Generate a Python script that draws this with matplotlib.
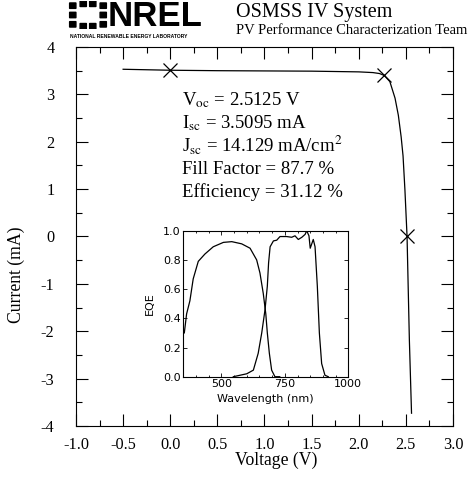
import matplotlib.pyplot as plt
import numpy as np
from matplotlib.patches import FancyBboxPatch
from matplotlib.ticker import MultipleLocator

plt.rcParams["font.family"] = ["Liberation Serif", "DejaVu Serif"]
plt.rcParams["mathtext.fontset"] = "stix"

# IV curve
voltage = [-0.5, 0.0, 0.5, 1.0, 1.5, 2.0, 2.15, 2.22, 2.27, 2.33, 2.385,
           2.42, 2.45, 2.47, 2.49, 2.5125, 2.537, 2.56]
current = [3.53, 3.5095, 3.50, 3.495, 3.49, 3.475, 3.46, 3.44, 3.40, 3.27, 2.92,
           2.56, 2.10, 1.70, 0.98, 0.0, -2.18, -3.73]

# marked points: Isc, max power, Voc
mark_v = [0.0, 2.27, 2.5125]
mark_i = [3.5095, 3.40, 0.0]

# EQE of the two subcells
wl_top = [354, 363, 376, 389, 409, 435, 468, 508, 541, 580, 613, 639, 652,
          665, 675, 681, 689, 698, 711, 730]
eqe_top = [0.30, 0.43, 0.52, 0.67, 0.79, 0.84, 0.89, 0.92, 0.925, 0.91, 0.88,
           0.80, 0.71, 0.57, 0.43, 0.30, 0.16, 0.045, 0.0, 0.0]
wl_bot = [547, 600, 626, 645, 659, 672, 681, 686, 692, 705, 718, 731, 757, 777,
          790, 803, 817, 830, 836, 845, 850, 862, 869, 878, 886, 895, 908, 921]
eqe_bot = [0.0, 0.02, 0.045, 0.16, 0.30, 0.46, 0.62, 0.78, 0.89, 0.93, 0.935,
           0.96, 0.96, 0.955, 0.965, 0.94, 0.955, 0.975, 1.0, 0.965, 0.88, 0.94,
           0.89, 0.62, 0.30, 0.09, 0.01, 0.0]

results = [
    r"V$_{\rm oc}$ = 2.5125 V",
    r"I$_{\rm sc}$ = 3.5095 mA",
    r"J$_{\rm sc}$ = 14.129 mA/cm$^{2}$",
    "Fill Factor = 87.7 %",
    "Efficiency = 31.12 %",
]

W, H = 477, 480


def box(x0, y0, x1, y1):
    # pixel box (top-left origin) -> figure fraction rect
    return [x0 / W, 1 - y1 / H, (x1 - x0) / W, (y1 - y0) / H]


fig = plt.figure(figsize=(W / 100, H / 100), dpi=100)

# main IV plot
ax = fig.add_axes(box(76, 47, 453, 426))
ax.plot(voltage, current, color="black", lw=0.9)
ax.plot(mark_v, mark_i, "x", color="black", ms=10, mew=0.9)
ax.set_xlim(-1, 3)
ax.set_ylim(-4, 4)
ax.xaxis.set_major_locator(MultipleLocator(0.5))
ax.xaxis.set_minor_locator(MultipleLocator(0.25))
ax.yaxis.set_major_locator(MultipleLocator(1))
ax.yaxis.set_minor_locator(MultipleLocator(0.5))
ax.xaxis.set_major_formatter(lambda v, p: f"{v:.1f}")
ax.yaxis.set_major_formatter(lambda v, p: f"{v:.0f}")
ax.tick_params(which="both", direction="in", top=True, right=True, width=0.8)
ax.tick_params(which="major", length=8.5, labelsize=11.7)
ax.tick_params(which="minor", length=4.3)
ax.tick_params(axis="x", pad=8)
ax.tick_params(axis="y", pad=15.5)
for s in ax.spines.values():
    s.set_linewidth(0.8)
ax.set_xlabel("Voltage (V)", fontsize=12.7)
ax.set_ylabel("Current (mA)", fontsize=12.7)
ax.xaxis.set_label_coords(0.53, -0.068)
ax.yaxis.set_label_coords(-0.135, 0.398)

for k, line in enumerate(results):
    ax.text(0.281, 0.847 - k * 0.0607, line, transform=ax.transAxes,
            fontsize=13.5, va="baseline", ha="left")

# EQE inset
ins = fig.add_axes(box(183.3, 230.7, 348.3, 376.7))
ins.plot(wl_top, eqe_top, color="black", lw=0.9)
ins.plot(wl_bot, eqe_bot, color="black", lw=0.9)
ins.set_xlim(350, 1000)
ins.set_ylim(0, 1.0)
ins.set_xticks([500, 750, 1000])
ins.xaxis.set_minor_locator(MultipleLocator(50))
ins.set_yticks(np.arange(0, 1.01, 0.2))
ins.yaxis.set_major_formatter(lambda v, p: f"{v:.1f}")
ins.tick_params(which="both", direction="in", top=True, right=True,
                width=0.6, labelsize=8, pad=2)
ins.tick_params(which="major", length=3)
ins.tick_params(which="minor", length=1.5)
for lab in ins.get_xticklabels() + ins.get_yticklabels():
    lab.set_family("DejaVu Sans")
for s in ins.spines.values():
    s.set_linewidth(0.8)
ins.set_xlabel("Wavelength (nm)", fontsize=8, family="DejaVu Sans", labelpad=3)
ins.set_ylabel("EQE", fontsize=8, family="DejaVu Sans", labelpad=6)

# header: NREL logo and system name
logo = fig.add_axes(box(68, 1, 108, 29))
logo.set_xlim(0, 42)
logo.set_ylim(30, 0)
logo.axis("off")
for gx, gy in [(5, 5), (16, 3), (26, 3), (37, 5), (5, 15), (37, 15),
               (5, 25), (16, 27), (26, 27), (37, 25)]:
    logo.add_patch(FancyBboxPatch((gx - 3, gy - 2.6), 6, 5.2,
                                  boxstyle="round,pad=0.3", color="black"))

fig.text(108 / W, 1 - 16 / H, "NREL", fontsize=25, fontweight="bold",
         family="Liberation Sans", va="center", ha="left")
fig.text(70 / W, 1 - 37 / H, "NATIONAL RENEWABLE ENERGY LABORATORY",
         fontsize=3.6, fontweight="bold", family="Liberation Sans",
         va="center", ha="left")
fig.text(236 / W, 1 - 12 / H, "OSMSS IV System", fontsize=14.5,
         va="center", ha="left")
fig.text(236 / W, 1 - 30 / H, "PV Performance Characterization Team",
         fontsize=10.5, va="center", ha="left")

fig.savefig("out.png", dpi=100)
plt.close(fig)
